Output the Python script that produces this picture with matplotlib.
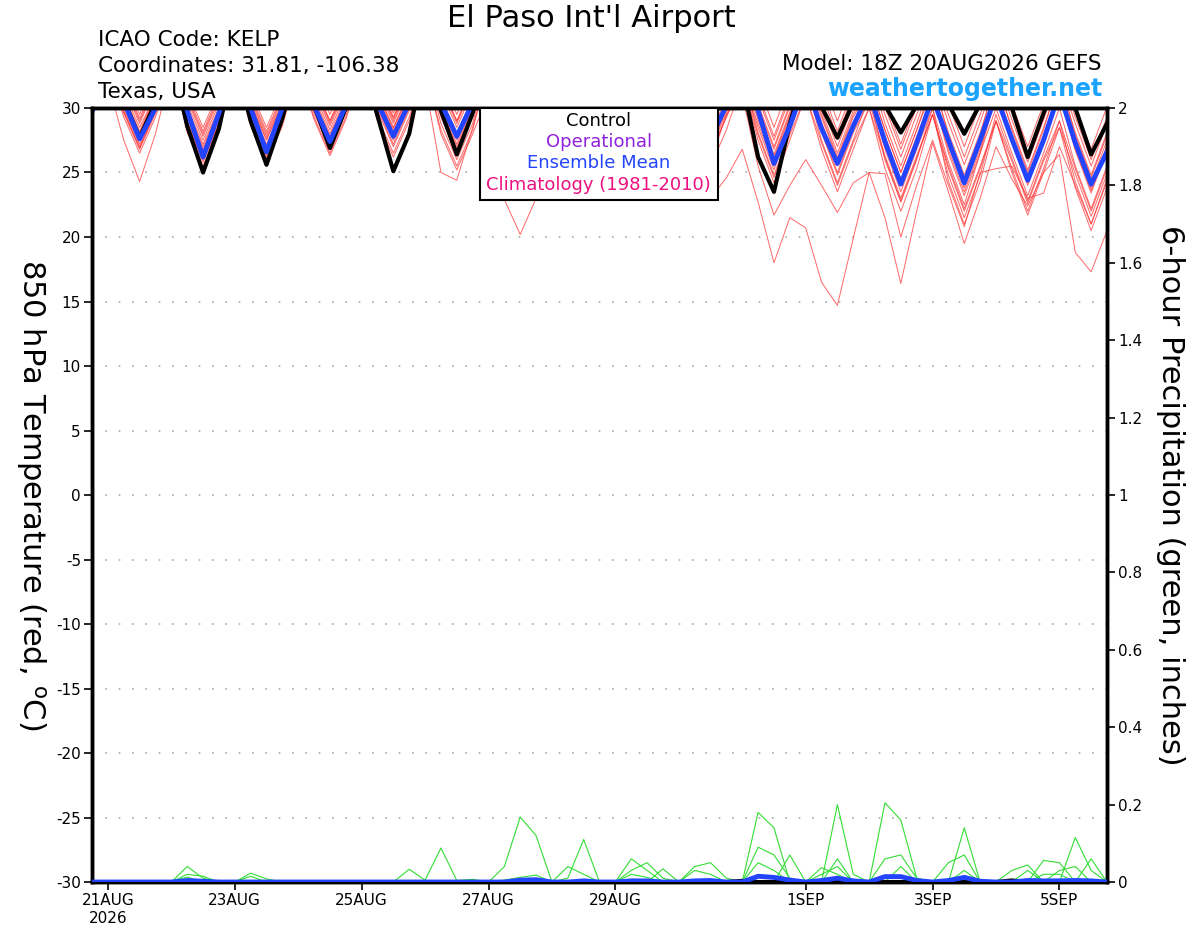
import numpy as np
import pandas as pd
import matplotlib
matplotlib.use("Agg")
import matplotlib.pyplot as plt
from matplotlib.patches import Rectangle

plt.rcParams['font.family'] = ['DejaVu Sans']
plt.rcParams['axes.unicode_minus'] = False

# 6-hourly forecast times, 18Z 20AUG2026 run
times = pd.date_range('2026-08-20 18:00', periods=65, freq='6h')

tick_dates = ['2026-08-21', '2026-08-23', '2026-08-25', '2026-08-27',
              '2026-08-29', '2026-09-01', '2026-09-03', '2026-09-05']
tick_labels = ['21AUG\n2026', '23AUG', '25AUG', '27AUG', '29AUG', '1SEP', '3SEP', '5SEP']

# 850 hPa temperature (C) - control run
ctl_t = [31,
         34, 30.6, 27.7, 30.4, 34, 28.6, 25.0, 28.4, 34, 29.0, 25.6, 29.2, 34, 30.2, 26.9, 30.0,
         34, 29.4, 25.1, 28.0, 34, 29.8, 26.4, 29.6, 34, 31, 29, 31, 34, 31, 29, 31,
         34, 31, 29, 31, 34, 31, 29, 31, 32, 26.2, 23.5, 28.8, 33, 30.1, 27.7, 30.4,
         33, 30.2, 28.1, 30.2, 33, 30.3, 28.0, 30.3, 33, 30.0, 26.2, 29.6, 33, 30.0, 26.4, 28.8]

# ensemble mean
mean_t = [29.7,
          33, 30.5, 27.6, 30.0, 33, 29.8, 26.2, 29.6, 33, 30.0, 26.6, 30.0, 33, 30.2, 27.4, 30.2,
          33, 30.4, 27.8, 30.4, 33, 30.4, 27.8, 30.4, 33, 31, 29.5, 31, 33, 31, 29.5, 31,
          33, 31, 29.0, 31, 33, 30.8, 27.6, 30.2, 33, 29.8, 25.7, 28.6, 32, 28.4, 25.7, 28.6,
          31.2, 27.4, 24.1, 27.3, 30.8, 27.5, 24.2, 27.5, 31.0, 27.6, 24.4, 27.5, 31.2, 27.3, 24.1, 26.6]

# ensemble members
t01 = [31.5,
       34, 31.2, 28.5, 31.0, 34, 29.8, 27.0, 29.8, 34, 30.0, 27.2, 30.0, 34, 30.8, 28.0, 30.8,
       34, 31.2, 28.5, 31.2, 34, 30.8, 28.0, 30.8, 34, 30.8, 28.0, 30.8, 34, 31.2, 28.5, 31.2,
       34, 31.0, 28.2, 31.0, 33, 30.3, 27.5, 30.0, 32, 28.8, 25.5, 28.8, 32, 28.3, 25.0, 28.3,
       31, 26.8, 23.5, 26.8, 30, 25.8, 22.5, 26.5, 30, 26.5, 23.2, 26.5, 30, 25.5, 22.2, 25.5]
t02 = [31.0,
       33.5, 29.8, 27.0, 29.8, 33.5, 28.8, 26.0, 28.8, 33.5, 29.0, 26.2, 29.0, 33.5, 29.8, 27.0, 29.8,
       33.5, 30.0, 27.2, 30.0, 33.5, 28.8, 26.0, 28.8, 33.5, 29.8, 27.0, 29.8, 33.5, 30.3, 27.5, 30.3,
       33.5, 29.8, 27.0, 29.8, 33.5, 29.3, 26.5, 29.3, 32.5, 28.1, 24.8, 28.1, 32, 27.5, 24.2, 27.5,
       31, 26.0, 22.7, 26.0, 30, 24.3, 21.0, 24.3, 29, 25.3, 22.0, 25.3, 29, 24.3, 21.0, 24.3]
t03 = [32,
       34.5, 31.8, 29.0, 31.8, 34.5, 30.8, 28.0, 30.8, 34.5, 30.8, 28.0, 30.8, 34.5, 31.8, 29.0, 31.8,
       34.5, 32.0, 29.3, 32.0, 34.5, 31.8, 29.0, 31.8, 34.5, 31.8, 29.0, 31.8, 34.5, 32.0, 29.2, 32.0,
       34.5, 31.8, 29.0, 31.8, 34.5, 31.5, 28.8, 31.5, 33.5, 30.3, 27.0, 30.3, 33.5, 29.8, 26.5, 29.8,
       33, 28.8, 25.5, 28.8, 32.5, 27.8, 24.5, 27.8, 32.5, 28.3, 25.0, 28.3, 32.5, 27.9, 24.6, 27.9]
t04 = [30.8,
       33, 29.6, 26.8, 29.6, 33, 28.3, 25.5, 28.3, 33, 29.3, 26.5, 29.3, 33, 29.6, 26.8, 29.6,
       33, 29.3, 26.5, 29.3, 33, 28.0, 25.2, 28.0, 31, 22.9, 20.2, 23.0, 31.5, 28.8, 26.0, 28.8,
       33, 29.3, 26.5, 29.3, 33, 28.3, 25.5, 28.3, 32, 27.5, 24.2, 27.5, 31, 26.8, 23.5, 26.8,
       30, 25.3, 22.0, 25.3, 29.5, 25.3, 22.0, 25.3, 29, 25.0, 21.7, 25.0, 28.5, 23.8, 20.5, 23.8]
t05 = [31.2,
       34, 30.8, 28.0, 30.8, 34, 29.3, 26.5, 29.3, 34, 29.8, 27.0, 29.8, 34, 30.3, 27.5, 30.3,
       34, 30.8, 28.0, 30.8, 34, 29.8, 27.0, 29.8, 34, 30.3, 27.5, 30.3, 34, 30.8, 28.0, 30.8,
       34, 30.4, 27.6, 30.4, 34, 29.8, 27.0, 29.8, 33, 29.3, 26.0, 29.3, 32.5, 28.9, 25.6, 28.9,
       31.5, 27.3, 24.0, 27.3, 31, 26.5, 23.2, 26.5, 31, 27.3, 24.0, 27.3, 31, 26.7, 23.4, 26.7]
t06 = [31.5,
       34, 30.3, 27.5, 30.3, 34, 30.3, 27.5, 30.3, 34, 30.6, 27.8, 30.6, 34, 31.1, 28.3, 31.1,
       34, 31.6, 28.8, 31.6, 34, 31.3, 28.5, 31.3, 34, 31.3, 28.5, 31.3, 34, 31.4, 28.6, 31.4,
       34, 31.2, 28.4, 31.2, 34, 30.8, 28.0, 30.8, 33, 30.1, 26.8, 30.1, 33, 30.3, 27.0, 30.3,
       32, 28.3, 25.0, 28.3, 32, 28.1, 24.8, 28.1, 32, 28.5, 25.2, 28.5, 32, 28.1, 24.8, 28.1]
t07 = [32.5,
       35, 32.3, 29.5, 32.3, 35, 31.3, 28.5, 31.3, 35, 31.3, 28.5, 31.3, 35, 32.3, 29.5, 32.3,
       35, 32.4, 29.6, 32.4, 35, 32.3, 29.5, 32.3, 35, 32.3, 29.5, 32.3, 35, 32.3, 29.5, 32.3,
       35, 32.2, 29.4, 32.2, 35, 32.0, 29.2, 32.0, 34, 31.8, 28.5, 31.8, 34, 32.3, 29.0, 32.3,
       33.5, 30.5, 27.2, 30.5, 33.5, 30.3, 27.0, 30.3, 33.5, 30.3, 27.0, 30.3, 33.5, 30.1, 26.8, 30.1]
t08 = [30.5,
       33, 29.3, 26.5, 29.3, 33, 28.6, 25.8, 28.6, 33, 28.8, 26.0, 28.8, 33, 29.3, 26.5, 29.3,
       33, 29.8, 27.0, 29.8, 32, 25.0, 24.4, 28.5, 33, 28.8, 26.0, 28.8, 33, 29.8, 27.0, 29.8,
       32, 29.6, 26.8, 29.0, 28, 23.2, 23.0, 24.6, 26.8, 22.7, 18.0, 21.5, 20.7, 16.5, 14.7, 19.9,
       25.0, 21.5, 16.4, 22.0, 27.3, 23.5, 19.5, 23.0, 27.0, 24.5, 22.4, 25.0, 26.4, 18.8, 17.3, 20.5]
t09 = [31,
       34, 31.0, 28.2, 31.0, 33.5, 29.6, 26.8, 29.6, 33.5, 29.6, 26.8, 29.6, 33.5, 30.0, 27.2, 30.0,
       33.5, 30.6, 27.8, 30.6, 33.5, 29.6, 26.8, 29.6, 33.5, 30.0, 27.2, 30.0, 33.5, 30.6, 27.8, 30.6,
       33.5, 30.2, 27.4, 30.2, 33.5, 29.6, 26.8, 29.6, 32, 28.5, 25.2, 28.5, 31.5, 28.1, 24.8, 28.1,
       30.5, 26.3, 23.0, 26.3, 29.5, 24.8, 21.5, 24.8, 29.5, 26.1, 22.8, 26.1, 29, 25.3, 22.0, 25.3]
t10 = [31.2,
       33.8, 30.0, 27.2, 30.0, 33.8, 30.0, 27.2, 30.0, 33.8, 30.3, 27.5, 30.3, 33.8, 31.4, 28.6, 31.4,
       33.8, 31.0, 28.2, 31.0, 33.8, 30.3, 27.5, 30.3, 33.8, 30.8, 28.0, 30.8, 33.8, 31.0, 28.2, 31.0,
       33.8, 30.8, 28.0, 30.8, 33.8, 30.4, 27.6, 30.4, 32.5, 29.5, 26.2, 29.5, 32.5, 29.3, 26.0, 29.3,
       31.5, 27.8, 24.5, 27.8, 31, 27.1, 23.8, 27.1, 31, 27.5, 24.2, 27.5, 31, 26.9, 23.6, 26.9]
t11 = [30.2,
       32, 27.5, 24.3, 28.0, 33, 29.0, 26.2, 29.0, 33, 28.6, 25.8, 28.6, 33, 29.1, 26.3, 29.1,
       33, 29.0, 26.2, 29.0, 33, 28.3, 25.5, 28.3, 33, 29.3, 26.5, 29.3, 33, 29.6, 26.8, 29.6,
       33, 29.2, 26.4, 29.2, 32, 28.6, 25.8, 29.5, 31, 25.5, 21.7, 24.0, 26.0, 24.0, 21.9, 24.2,
       25.0, 24.9, 20.0, 24.0, 27.5, 24.0, 20.8, 25.0, 25.3, 25.5, 23.0, 23.4, 27.0, 24.0, 21.0, 24.5]
t12 = [31.8,
       34.5, 31.6, 28.8, 31.6, 34.5, 31.0, 28.2, 31.0, 34.5, 31.0, 28.2, 31.0, 34.5, 31.6, 28.8, 31.6,
       34.5, 31.8, 29.0, 31.8, 34.5, 31.6, 28.8, 31.6, 34.5, 31.6, 28.8, 31.6, 34.5, 31.8, 29.0, 31.8,
       34.5, 31.6, 28.8, 31.6, 34.5, 31.2, 28.4, 31.2, 33.5, 30.8, 27.5, 30.8, 33.5, 31.1, 27.8, 31.1,
       33, 29.5, 26.2, 29.5, 32.5, 28.9, 25.6, 28.9, 32.5, 29.1, 25.8, 29.1, 32.5, 28.8, 25.5, 28.8]
t13 = [31,
       33.5, 30.6, 27.8, 30.6, 33.5, 28.8, 26.0, 28.8, 33.5, 29.2, 26.4, 29.2, 33.5, 29.8, 27.0, 29.8,
       33.5, 30.3, 27.5, 30.3, 33.5, 29.3, 26.5, 29.3, 33.5, 29.8, 27.0, 29.8, 33.5, 30.3, 27.5, 30.3,
       33.5, 30.0, 27.2, 30.0, 33.5, 29.3, 26.5, 29.3, 32, 27.9, 24.6, 27.9, 31, 27.3, 24.0, 27.3,
       30, 26.1, 22.8, 26.1, 29.5, 25.5, 22.2, 25.5, 29, 25.9, 22.6, 25.9, 28.5, 24.9, 21.6, 24.9]
t14 = [31,
       33.5, 29.7, 26.9, 29.7, 33.5, 28.1, 25.3, 28.1, 33.5, 29.8, 27.0, 29.8, 33.5, 30.6, 27.8, 30.6,
       33.5, 31.2, 28.4, 31.2, 33.5, 30.6, 27.8, 30.6, 33.5, 30.3, 27.5, 30.3, 33.5, 30.8, 28.0, 30.8,
       33.5, 30.6, 27.8, 30.6, 33.5, 30.0, 27.2, 30.0, 32.5, 29.1, 25.8, 29.1, 32, 28.8, 25.5, 28.8,
       31.5, 27.5, 24.2, 27.5, 31, 26.8, 23.5, 26.8, 31, 27.8, 24.5, 27.8, 31, 27.1, 23.8, 27.1]
t15 = [32,
       34.5, 32.0, 29.2, 32.0, 34.5, 30.6, 27.8, 30.6, 34.5, 30.4, 27.6, 30.4, 34.5, 31.8, 29.0, 31.8,
       34.5, 32.0, 29.2, 32.0, 34.5, 31.8, 29.0, 31.8, 34.5, 31.8, 29.0, 31.8, 34.5, 32.1, 29.3, 32.1,
       34.5, 31.8, 29.0, 31.8, 34.5, 31.4, 28.6, 31.4, 34, 31.1, 27.8, 31.1, 34, 31.5, 28.2, 31.5,
       33.5, 30.1, 26.8, 30.1, 33, 29.5, 26.2, 29.5, 33, 29.8, 26.5, 29.8, 33, 29.3, 26.0, 29.3]
t16 = [31.4,
       34, 30.8, 28.0, 30.8, 34, 29.4, 26.6, 29.4, 34, 29.7, 26.9, 29.7, 34, 30.2, 27.4, 30.2,
       34, 30.7, 27.9, 30.7, 34, 30.0, 27.2, 30.0, 34, 30.6, 27.8, 30.6, 34, 31.0, 28.2, 31.0,
       34, 30.7, 27.9, 30.7, 34, 30.1, 27.3, 30.1, 33, 29.7, 26.4, 29.7, 32.5, 29.5, 26.2, 29.5,
       32, 28.3, 25.0, 28.3, 31.5, 27.3, 24.0, 27.3, 31.5, 27.9, 24.6, 27.9, 31.5, 27.5, 24.2, 27.5]

# 6-hour precipitation (inches)
ctl_p = [0, 0, 0, 0, 0, 0, 0, 0,
         0, 0, 0, 0, 0, 0, 0, 0,
         0, 0, 0, 0, 0, 0, 0, 0,
         0, 0, 0, 0, 0, 0, 0, 0,
         0, 0, 0, 0, 0, 0, 0, 0,
         0, .003, 0, 0, 0, 0, 0, 0,
         0, 0, 0, 0, 0, 0, 0, 0,
         0, 0, .004, 0, 0, 0, 0, 0,
         0]
mean_p = [0, 0, 0, 0, 0, 0, .004, .002,
          0, 0, 0, 0, 0, 0, 0, 0,
          0, 0, 0, 0, 0, 0, 0, 0,
          0, 0, 0, .005, .006, 0, 0, .003,
          0, 0, .003, .003, 0, 0, .003, .004,
          0, 0, .015, .012, .005, 0, .004, .01,
          .003, 0, .014, .014, .004, 0, .004, .012,
          .002, 0, 0, .004, .003, .003, .004, .003,
          0]
p01 = [0, 0, 0, 0, 0, 0, .04, .01,
       0, 0, 0, 0, 0, 0, 0, 0,
       0, 0, 0, 0, .033, .005, .088, .004,
       .007, 0, .04, .168, .12, 0, 0, 0,
       0, 0, 0, 0, 0, 0, 0, 0,
       0, 0, .18, .14, 0, 0, 0, 0,
       0, 0, 0, 0, 0, 0, 0, 0,
       0, 0, 0, 0, 0, 0, .115, .03,
       0]
p02 = [0, 0, 0, 0, 0, 0, .02, .015,
       0, 0, 0, 0, 0, 0, 0, 0,
       0, 0, 0, 0, 0, 0, 0, 0,
       0, 0, 0, 0, 0, 0, .01, .11,
       0, 0, 0, 0, 0, 0, 0, 0,
       0, 0, 0, 0, 0, 0, 0, .2,
       .02, 0, 0, 0, 0, 0, 0, .14,
       0, 0, 0, 0, 0, 0, 0, 0,
       0]
p03 = [0, 0, 0, 0, 0, 0, 0, 0,
       0, 0, .023, .008, 0, 0, 0, 0,
       0, 0, 0, 0, 0, 0, 0, 0,
       0, 0, .005, .012, .018, 0, 0, 0,
       0, 0, 0, 0, 0, 0, 0, 0,
       0, 0, 0, 0, 0, 0, 0, 0,
       0, 0, .205, .16, .01, 0, 0, 0,
       0, 0, 0, 0, .056, .05, 0, 0,
       0]
p04 = [0, 0, 0, 0, 0, 0, 0, 0,
       0, 0, 0, 0, 0, 0, 0, 0,
       0, 0, 0, 0, 0, 0, 0, 0,
       0, 0, 0, 0, 0, 0, .04, .02,
       0, 0, .06, .03, 0, 0, 0, 0,
       0, 0, .09, .07, .01, 0, 0, 0,
       0, 0, 0, 0, 0, 0, 0, 0,
       0, 0, .03, .044, 0, 0, 0, 0,
       0]
p05 = [0, 0, 0, 0, 0, 0, 0, 0,
       0, 0, 0, 0, 0, 0, 0, 0,
       0, 0, 0, 0, 0, 0, 0, 0,
       0, 0, 0, 0, 0, 0, 0, 0,
       0, 0, .03, .05, .01, 0, .04, .05,
       .01, 0, 0, 0, 0, 0, 0, .06,
       0, 0, 0, 0, 0, 0, .05, .07,
       0, 0, 0, 0, 0, 0, 0, 0,
       0]
p06 = [0, 0, 0, 0, 0, 0, 0, 0,
       0, 0, 0, 0, 0, 0, 0, 0,
       0, 0, 0, 0, 0, 0, 0, 0,
       0, 0, 0, 0, 0, 0, 0, 0,
       0, 0, 0, 0, .034, 0, 0, 0,
       0, 0, 0, 0, .07, 0, 0, 0,
       0, 0, .06, .07, .01, 0, 0, 0,
       0, 0, 0, 0, 0, 0, 0, .06,
       0]
p07 = [0, 0, 0, 0, 0, 0, .013, 0,
       0, 0, 0, 0, 0, 0, 0, 0,
       0, 0, 0, 0, 0, 0, 0, 0,
       0, 0, 0, 0, 0, 0, 0, 0,
       0, 0, 0, 0, 0, 0, .03, .02,
       0, 0, .05, .03, 0, 0, .037, .02,
       0, 0, 0, 0, 0, 0, 0, 0,
       0, 0, 0, .03, 0, .03, .04, 0,
       0]
p08 = [0, 0, 0, 0, 0, 0, 0, 0,
       0, 0, .015, 0, 0, 0, 0, 0,
       0, 0, 0, 0, 0, 0, 0, 0,
       0, 0, 0, 0, 0, 0, 0, 0,
       0, 0, .02, .012, 0, 0, 0, 0,
       0, 0, 0, 0, 0, 0, .02, .04,
       0, 0, 0, .04, 0, 0, 0, .03,
       0, 0, 0, 0, .02, .02, 0, 0,
       0]

temp_members = [t01, t02, t03, t04, t05, t06, t07, t08, t09, t10, t11, t12, t13, t14, t15, t16]
precip_members = [p01, p02, p03, p04, p05, p06, p07, p08]

fig = plt.figure(figsize=(12, 9.27), dpi=100)
ax = fig.add_axes([0.0767, 0.0485, 0.8458, 0.835])
ax2 = ax.twinx()

# temperature (left axis)
for m in temp_members:
    ax.plot(times, m, color='#ff3333', lw=0.7, alpha=0.75, zorder=2)
ax.plot(times, ctl_t, color='black', lw=3, zorder=3)
ax.plot(times, mean_t, color='#2244ff', lw=3.5, zorder=4)

# precipitation (right axis)
for m in precip_members:
    ax2.plot(times, m, color='#33dd33', lw=0.8, zorder=2)
ax2.plot(times, ctl_p, color='black', lw=3, zorder=3)
ax2.plot(times, mean_p, color='#2244ff', lw=3.5, zorder=4)

ax.set_xlim(times[0], times[-1])
ax.set_ylim(-30, 30)
ax2.set_ylim(0, 2)
ax.set_yticks(np.arange(-30, 31, 5))
ax2.set_yticks(np.arange(0, 2.01, 0.2))
ax2.set_yticklabels(['0', '0.2', '0.4', '0.6', '0.8', '1', '1.2', '1.4', '1.6', '1.8', '2'])
ax.set_xticks(pd.to_datetime(tick_dates))
ax.set_xticklabels(tick_labels)

for y in range(-25, 30, 5):
    ax.axhline(y, color='#aaaaaa', lw=1.2, linestyle=(0, (1, 7)), zorder=1)

for a in (ax, ax2):
    a.tick_params(direction='out', length=6, width=1.2, labelsize=11, pad=2)
    for s in a.spines.values():
        s.set_linewidth(2.5)

fig.text(0.4925, 0.980, "El Paso Int'l Airport", ha='center', va='center', fontsize=22)
fig.text(0.0817, 0.957, 'ICAO Code: KELP', ha='left', va='center', fontsize=15.5)
fig.text(0.0817, 0.929, 'Coordinates: 31.81, -106.38', ha='left', va='center', fontsize=15.5)
fig.text(0.0817, 0.901, 'Texas, USA', ha='left', va='center', fontsize=15.5)
fig.text(0.9183, 0.931, 'Model: 18Z 20AUG2026 GEFS', ha='right', va='center', fontsize=15.5)
fig.text(0.9183, 0.904, 'weathertogether.net', ha='right', va='center', fontsize=17,
         fontweight='bold', color='#1aa3ff')

fig.text(0.026, 0.466, r'850 hPa Temperature (red, $^{\mathrm{o}}$C)', rotation=270,
         ha='center', va='center', fontsize=22)
fig.text(0.975, 0.466, '6-hour Precipitation (green, inches)', rotation=270,
         ha='center', va='center', fontsize=22)

# legend box
fig.add_artist(Rectangle((0.4, 0.7843), 0.1983, 0.0992, transform=fig.transFigure,
                         facecolor='white', edgecolor='black', lw=1.5, zorder=5))
leg = [('Control', 'black', 0.8695), ('Operational', '#9020e0', 0.8468),
       ('Ensemble Mean', '#2244ff', 0.8242), ('Climatology (1981-2010)', '#ee1080', 0.8004)]
for txt, col, yy in leg:
    fig.text(0.499, yy, txt, ha='center', va='center', fontsize=13, color=col, zorder=6)

fig.savefig('out.png', dpi=100)
